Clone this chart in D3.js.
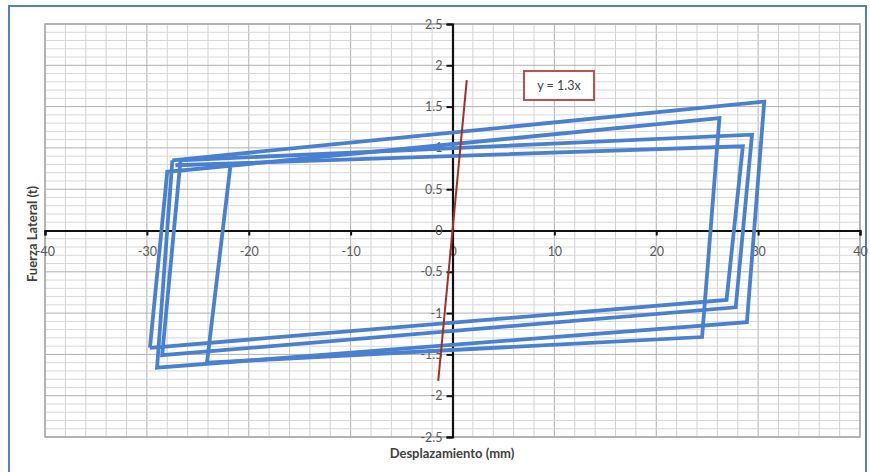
<!DOCTYPE html>
<html>
<head>
<meta charset="utf-8">
<script src="https://cdn.jsdelivr.net/npm/d3@7"></script>
<style>
  html, body { margin: 0; padding: 0; background: #fff; }
  svg { display: block; }
  text { font-family: Lato, "Open Sans", "Liberation Sans", sans-serif; }
</style>
</head>
<body>
<svg id="chart" width="870" height="472"></svg>
<script>
// ---------- data ----------
const xTicks = [-40, -30, -20, -10, 0, 10, 20, 30, 40];
const yTicks = [-2.5, -2, -1.5, -1, -0.5, 0, 0.5, 1, 1.5, 2, 2.5];

// hysteresis cycles: displacement (mm) and lateral force (t)
const loop1Disp  = [-27.5, 30.6, 28.9, -29.0, -27.5];
const loop1Force = [0.85, 1.56, -1.11, -1.66, 0.85];

const loop2Disp  = [-29.7, -28.0, 26.2, 24.5, -24.1, -21.8];
const loop2Force = [-1.42, 0.71, 1.36, -1.29, -1.60, 0.785];

const loop3Disp  = [-26.7, 29.4, 27.8, -28.5, -26.7];
const loop3Force = [0.85, 1.16, -0.93, -1.51, 0.85];

const loop4Disp  = [-27.2, 28.5, 26.9, -29.7];
const loop4Force = [0.79, 1.02, -0.84, -1.42];

// initial stiffness trend line y = 1.3x
const trendSlope = 1.3;
const trendDisp = [-1.4, 1.4];
const trendLabel = "y = 1.3x";

// ---------- layout ----------
const svg = d3.select("#chart");
const plot = { left: 45, right: 860, top: 24, bottom: 437 };

const x = d3.scaleLinear().domain([-40, 40]).range([plot.left, plot.right]);
const y = d3.scaleLinear().domain([-2.5, 2.5]).range([plot.bottom, plot.top]);

// outer frame
svg.append("rect")
  .attr("x", 9).attr("y", 6).attr("width", 857).attr("height", 480)
  .attr("fill", "none").attr("stroke", "#4f81c4").attr("stroke-width", 2);

// grid
const g = svg.append("g");
const vLines = d3.range(-40, 40.001, 2);
const hLines = d3.range(-25, 25.001, 1).map(v => v / 10);
g.selectAll(".vg").data(vLines).join("line")
  .attr("x1", d => x(d)).attr("x2", d => x(d))
  .attr("y1", plot.top).attr("y2", plot.bottom)
  .attr("stroke", d => d % 10 === 0 ? "#b0b0b0" : "#d2d2d2")
  .attr("stroke-width", 1);
g.selectAll(".hg").data(hLines).join("line")
  .attr("y1", d => y(d)).attr("y2", d => y(d))
  .attr("x1", plot.left).attr("x2", plot.right)
  .attr("stroke", d => Math.abs(Math.round(d * 10)) % 5 === 0 ? "#b0b0b0" : "#d8d8d8")
  .attr("stroke-width", 1);
svg.append("rect")
  .attr("x", plot.left).attr("y", plot.top)
  .attr("width", plot.right - plot.left).attr("height", plot.bottom - plot.top)
  .attr("fill", "none").attr("stroke", "#a8a8a8").attr("stroke-width", 1.5);

// axes (crossing at origin)
const fmt = d => String(d);
const xAxis = svg.append("g")
  .attr("transform", `translate(0,${y(0)})`)
  .call(d3.axisBottom(x).tickValues(xTicks).tickSize(5).tickPadding(12).tickFormat(fmt));
const yAxis = svg.append("g")
  .attr("transform", `translate(${x(0)},0)`)
  .call(d3.axisLeft(y).tickValues(yTicks).tickSize(6).tickPadding(4).tickFormat(fmt));
[xAxis, yAxis].forEach(a => {
  a.select(".domain").attr("stroke", "#111").attr("stroke-width", 2.2);
  a.selectAll(".tick line").attr("stroke", "#111").attr("stroke-width", 2);
  a.selectAll(".tick text").attr("fill", "#595959").attr("font-size", 12.5);
});

// blue hysteresis loops
const line = d3.line().x(d => x(d[0])).y(d => y(d[1]));
const loops = [
  [loop1Disp, loop1Force],
  [loop2Disp, loop2Force],
  [loop3Disp, loop3Force],
  [loop4Disp, loop4Force]
].map(([dx, fy]) => dx.map((v, i) => [v, fy[i]]));

svg.append("g").selectAll("path").data(loops).join("path")
  .attr("d", line)
  .attr("fill", "none")
  .attr("stroke", "#4a80d0")
  .attr("stroke-width", 3.8)
  .attr("stroke-linejoin", "miter");

// red trend line
const trendPts = trendDisp.map(v => [v, trendSlope * v]);
svg.append("path")
  .attr("d", line(trendPts))
  .attr("fill", "none")
  .attr("stroke", "#a0302e")
  .attr("stroke-width", 2);

// trend label box
svg.append("rect")
  .attr("x", 524).attr("y", 71).attr("width", 70).attr("height", 29)
  .attr("fill", "#fff").attr("stroke", "#c0504d").attr("stroke-width", 2);
svg.append("text")
  .attr("x", 559).attr("y", 90)
  .attr("text-anchor", "middle")
  .attr("font-size", 12.5).attr("fill", "#404040")
  .text(trendLabel);

// axis titles
svg.append("text")
  .attr("x", 452).attr("y", 458)
  .attr("text-anchor", "middle")
  .attr("font-size", 13).attr("font-weight", "bold").attr("fill", "#404040")
  .text("Desplazamiento (mm)");
svg.append("text")
  .attr("transform", "translate(37,234) rotate(-90)")
  .attr("text-anchor", "middle")
  .attr("font-size", 13).attr("font-weight", "bold").attr("fill", "#404040")
  .text("Fuerza Lateral (t)");
</script>
</body>
</html>
